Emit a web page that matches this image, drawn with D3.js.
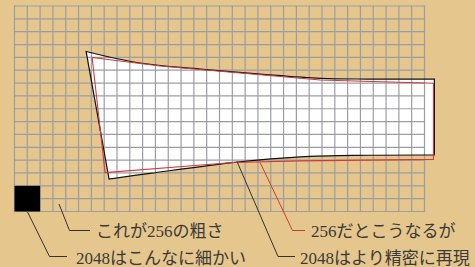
<!DOCTYPE html>
<html><head><meta charset="utf-8">
<script src="https://cdn.jsdelivr.net/npm/d3@7"></script>
<style>html,body{margin:0;padding:0;background:#E5C68C;}svg{display:block;}</style>
</head><body>
<script>
// grid resolution (columns x rows)
const gridCols = 32;
const gridRows = 16;
// precise outline (grid units) : [u, v]
const preciseTop = [[5.59,3.54],[9.80,4.44],[14.49,4.91],[19.18,5.30],[23.87,5.63],[27.5,5.69],[32.77,5.69]];
const preciseBottom = [[32.77,11.60],[27.5,11.62],[22.30,11.74],[17.38,12.15],[10.59,13.03],[7.38,13.47]];
// coarse (256) outline (grid units)
const coarseTop = [[6.06,4.01],[11.37,4.67],[23.87,5.76],[32.70,6.02]];
const coarseBottom = [[32.70,11.94],[22.30,12.06],[17.07,12.19],[7.07,12.97]];
// fine cell (2048) block in grid units: [u0, v0, u1, v1]
const fineBlock = [0, 14, 2, 16];
// annotation labels
const labels = ["これが256の粗さ","2048はこんなに細かい","256だとこうなるが","2048はより精密に再現"];

const W = 475, H = 267;
const svg = d3.select("body").append("svg").attr("width", W).attr("height", H);
svg.append("rect").attr("width", W).attr("height", H).attr("fill", "#E5C68C");

const x = d3.scaleLinear().domain([0, gridCols]).range([14.5, 424.5]);
const y = d3.scaleLinear().domain([0, gridRows]).range([6, 211.5]);

const edge = d3.line().x(d => x(d[0])).y(d => y(d[1])).curve(d3.curveCatmullRom.alpha(0.5));
const preciseD = edge(preciseTop) + edge(preciseBottom).replace(/^M/, "L") + "Z";
const coarseD = d3.line().x(d => x(d[0])).y(d => y(d[1])).curve(d3.curveLinearClosed)(coarseTop.concat(coarseBottom));

// white fill
svg.append("path").attr("d", preciseD).attr("fill", "#fff");

// grid
const g = svg.append("g").attr("stroke", "#9c9da3").attr("stroke-width", 1.2);
g.selectAll(".v").data(d3.range(gridCols + 1)).join("line")
  .attr("x1", d => x(d)).attr("x2", d => x(d)).attr("y1", y(0) - 0.6).attr("y2", y(gridRows) + 0.6);
g.selectAll(".h").data(d3.range(gridRows + 1)).join("line")
  .attr("y1", d => y(d)).attr("y2", d => y(d)).attr("x1", x(0) - 0.6).attr("x2", x(gridCols) + 0.6);

// fine block
svg.append("rect").attr("x", x(fineBlock[0])).attr("y", y(fineBlock[1]))
  .attr("width", x(fineBlock[2]) - x(fineBlock[0])).attr("height", y(fineBlock[3]) - y(fineBlock[1]))
  .attr("fill", "#000");

// outlines
svg.append("path").attr("d", preciseD).attr("fill", "none").attr("stroke", "#111").attr("stroke-width", 1.2).attr("stroke-linejoin", "miter");
svg.append("path").attr("d", coarseD).attr("fill", "none").attr("stroke", "#d23a3a").attr("stroke-width", 1.1);

// leaders
const lead = (pts, color) => svg.append("polyline").attr("points", pts.map(p => p.join(",")).join(" "))
  .attr("fill", "none").attr("stroke", color).attr("stroke-width", 1);
lead([[59, 204], [69.5, 230.5], [90, 230.5]], "#333");
lead([[x(1), y(16)], [49.5, 256.5], [67, 256.5]], "#333");
lead([[260, 162.3], [292.5, 230.5], [305, 230.5]], "#d23a3a");
lead([[237, 161.5], [278, 256.5], [295, 256.5]], "#333");

const pos = [[96, 236.5], [76, 263.5], [311, 237], [300, 264]];
svg.selectAll("text.lbl").data(labels).join("text")
  .attr("x", (d, i) => pos[i][0]).attr("y", (d, i) => pos[i][1])
  .attr("font-family", "'Liberation Serif','Noto Sans CJK JP',serif")
  .attr("font-size", 17).attr("fill", "#3a3a3a")
  .text(d => d);
</script>
</body></html>
